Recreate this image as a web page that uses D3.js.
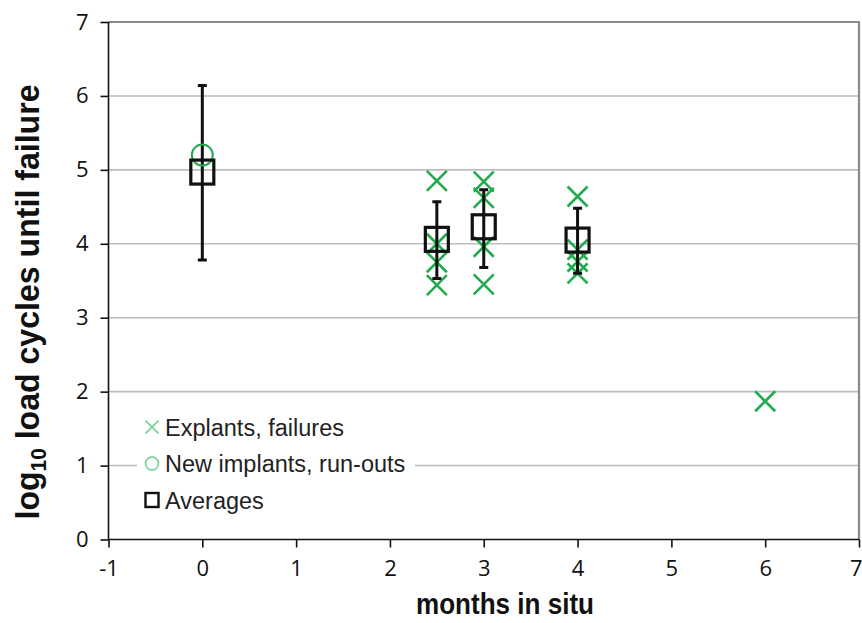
<!DOCTYPE html>
<html>
<head>
<meta charset="utf-8">
<script src="https://cdn.jsdelivr.net/npm/d3@7"></script>
<style>
  html, body { margin: 0; padding: 0; background: #fff; }
  svg { display: block; }
  .tick-lab { font-family: "Open Sans", sans-serif; font-size: 22px; fill: #111; }
  .ttl { font-family: "Liberation Sans Narrow", "Arial Narrow", "Liberation Sans", sans-serif; font-weight: bold; fill: #111; }
  .leg { font-family: "Liberation Sans", Arial, sans-serif; font-size: 23.5px; fill: #222; }
</style>
</head>
<body>
<div id="chart"></div>
<script>
// explants, failures
const explantMonths = [2.5, 2.5, 2.5, 2.5, 3, 3, 3, 3, 4, 4, 4, 4, 6];
const explantCycles = [4.85, 4.0, 3.75, 3.44, 4.84, 4.62, 3.96, 3.45, 4.64, 3.92, 3.76, 3.6, 1.87];
// new implants, run-outs
const newMonths = [0];
const newCycles = [5.2];
// averages with error bars
const avgMonths = [0, 2.5, 3, 4];
const avgCycles = [4.97, 4.06, 4.23, 4.05];
const avgLow = [3.78, 3.53, 3.68, 3.6];
const avgHigh = [6.14, 4.57, 4.73, 4.48];
const xTicks = [-1, 0, 1, 2, 3, 4, 5, 6, 7];
const yTicks = [0, 1, 2, 3, 4, 5, 6, 7];
const legendLabels = ["Explants, failures", "New implants, run-outs", "Averages"];

const W = 862, H = 623;
const M = { top: 22, right: 3, bottom: 83.5, left: 108.5 };
const GREEN = "#22ab4e", LIGHT = "#86d6a4";

const svg = d3.select("#chart").append("svg").attr("width", W).attr("height", H);
const x = d3.scaleLinear().domain([-1, 7]).range([M.left, W - M.right]);
const y = d3.scaleLinear().domain([0, 7]).range([H - M.bottom, M.top]);

// gridlines
svg.append("g").selectAll("line").data(yTicks.filter((d) => d > 0 && d < 7)).join("line")
  .attr("x1", x(-1)).attr("x2", x(7)).attr("y1", (d) => y(d)).attr("y2", (d) => y(d))
  .attr("stroke", "#bdbdbd").attr("stroke-width", 1.6);

// plot frame top/right
svg.append("path")
  .attr("d", `M${x(-1)},${y(7)}H${x(7)}V${y(0)}`)
  .attr("fill", "none").attr("stroke", "#8a8a8a").attr("stroke-width", 2.2);

// axes
const ax = svg.append("g").attr("transform", `translate(0,${y(0)})`)
  .call(d3.axisBottom(x).tickValues(xTicks).tickSize(8).tickPadding(8).tickFormat((d) => String(d)));
const ay = svg.append("g").attr("transform", `translate(${x(-1)},0)`)
  .call(d3.axisLeft(y).tickValues(yTicks).tickSize(8).tickPadding(12).tickFormat((d) => String(d)));
[ax, ay].forEach((a) => {
  a.select(".domain").attr("stroke", "#111").attr("stroke-width", 1.6);
  a.selectAll(".tick line").attr("stroke", "#111").attr("stroke-width", 1.6);
  a.selectAll(".tick text").attr("class", "tick-lab").attr("fill", null);
});
ax.select(".domain").attr("d", `M${x(-1)},0H${x(7)}`);
ay.select(".domain").attr("d", `M0,${y(0)}V${y(7)}`);
ax.selectAll(".tick text").attr("dy", "0.95em");
// last label sits at the window edge; nudge it in so it stays readable
ax.selectAll(".tick text").filter((d) => d === 7).attr("text-anchor", "end").attr("x", 3);

// titles
svg.append("text").attr("class", "ttl").attr("x", 505).attr("y", 614)
  .attr("text-anchor", "middle").style("font-size", "30px")
  .attr("textLength", 178).attr("lengthAdjust", "spacingAndGlyphs").text("months in situ");

const yt = svg.append("text").attr("class", "ttl").style("font-size", "34px")
  .attr("transform", `translate(39,${302}) rotate(-90)`).attr("text-anchor", "middle")
  .attr("textLength", 435).attr("lengthAdjust", "spacingAndGlyphs");
yt.append("tspan").text("log");
yt.append("tspan").attr("dy", 7).style("font-size", "22px").text("10");
yt.append("tspan").attr("dy", -7).text(" load cycles until failure");

// markers
function cross(sel, s) {
  return sel.attr("d", `M${-s},${-s}L${s},${s}M${-s},${s}L${s},${-s}`);
}

const pts = explantMonths.map((m, i) => ({ m, v: explantCycles[i] }));
cross(svg.append("g").selectAll("path").data(pts).join("path"), 10)
  .attr("transform", (d) => `translate(${x(d.m)},${y(d.v)})`)
  .attr("fill", "none").attr("stroke", GREEN).attr("stroke-width", 2.6);

// error bars
const avgs = avgMonths.map((m, i) => ({ m, v: avgCycles[i], lo: avgLow[i], hi: avgHigh[i] }));
const eb = svg.append("g").attr("stroke", "#111").attr("stroke-width", 3).attr("fill", "none");
eb.selectAll(".eb").data(avgs).join("path").attr("class", "eb")
  .attr("d", (d) => `M${x(d.m)},${y(d.lo)}V${y(d.hi)}M${x(d.m) - 4.5},${y(d.hi)}h9M${x(d.m) - 4.5},${y(d.lo)}h9`);

// new implants
svg.append("g").selectAll("circle").data(newMonths.map((m, i) => ({ m, v: newCycles[i] }))).join("circle")
  .attr("cx", (d) => x(d.m)).attr("cy", (d) => y(d.v)).attr("r", 10.5)
  .attr("fill", "none").attr("stroke", GREEN).attr("stroke-width", 2);

// averages
svg.append("g").selectAll("rect").data(avgs).join("rect")
  .attr("x", (d) => x(d.m) - 11.5).attr("y", (d) => y(d.v) - 12).attr("width", 23).attr("height", 24)
  .attr("fill", "none").attr("stroke", "#111").attr("stroke-width", 3.2);

// legend
const lg = svg.append("g");
lg.append("rect").attr("x", 137).attr("y", 408).attr("width", 278).attr("height", 112).attr("fill", "#fff");
const rows = lg.selectAll(".row").data(legendLabels).join("g").attr("class", "row")
  .attr("transform", (d, i) => `translate(152,${427 + i * 36.5})`);
rows.append("text").attr("class", "leg").attr("x", 13).attr("y", 8.5).text((d) => d);
cross(rows.filter((d, i) => i === 0).append("path"), 6.5)
  .attr("fill", "none").attr("stroke", LIGHT).attr("stroke-width", 1.8);
rows.filter((d, i) => i === 1).append("circle").attr("r", 6.5)
  .attr("fill", "none").attr("stroke", LIGHT).attr("stroke-width", 1.8);
rows.filter((d, i) => i === 2).append("rect").attr("x", -6.5).attr("y", -7).attr("width", 13).attr("height", 14)
  .attr("fill", "none").attr("stroke", "#111").attr("stroke-width", 2.4);
</script>
</body>
</html>
